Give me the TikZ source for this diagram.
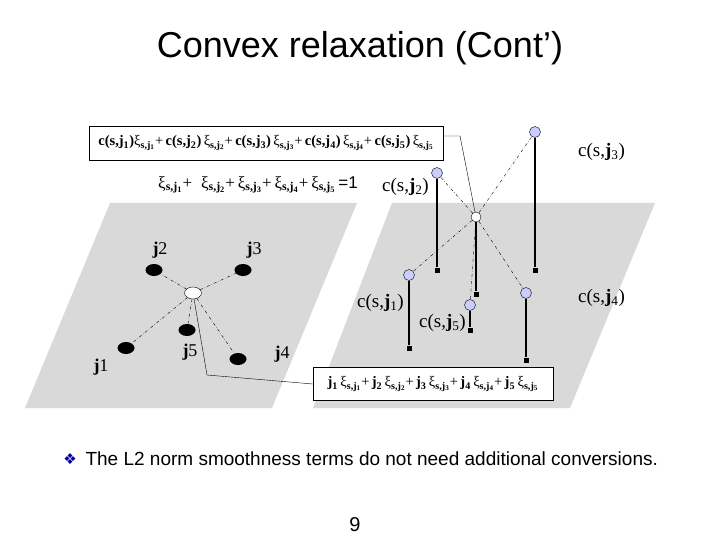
\documentclass[tikz,border=0pt]{standalone}
\usepackage{fontspec}
\setmainfont{Liberation Serif}
\newfontfamily\arial{Liberation Sans}
\newfontfamily\djv{DejaVu Sans}
\usetikzlibrary{shapes.geometric}
\newcommand{\xs}[1]{ξ\textsubscript{\textbf{s,j\textsubscript{#1}}}}
\newcommand{\cj}[1]{\textbf{c(s,j\textsubscript{#1})}}
\newcommand{\cs}[1]{c(s,\textbf{j}\textsubscript{#1})}
\begin{document}
\begin{tikzpicture}[x=1pt,y=-1pt,
  blk/.style={ellipse,fill=black,minimum width=17pt,minimum height=12pt,inner sep=0},
  wht/.style={ellipse,draw,fill=white,minimum width=17pt,minimum height=12pt,inner sep=0},
  blue/.style={circle,draw,fill=blue!20,minimum size=11pt,inner sep=0},
  ctr/.style={circle,draw,fill=white,minimum size=10pt,inner sep=0},
  sq/.style={rectangle,fill=black,minimum size=5pt,inner sep=0},
  dd/.style={dash dot,line width=0.4pt},
  st/.style={line width=1.5pt},
  lbl/.style={font=\fontsize{19}{21}\selectfont,inner sep=1pt},
  jl/.style={font=\bfseries\fontsize{18}{20}\selectfont}]
\useasboundingbox (0,0) rectangle (720,540);
\fill[black!15] (110,203) -- (357,203) -- (272,408) -- (25,408) -- cycle;
\fill[black!15] (392,203) -- (655,203) -- (570,408) -- (313,408) -- cycle;
\node[font=\arial\fontsize{36}{40}\selectfont] (title) at (360,48) {Convex relaxation (Cont’)};
% left graph
\node[wht] (c) at (193,293) {};
\node[blk] (j2) at (154,270) {};
\node[blk] (j3) at (243,270) {};
\node[blk] (j5) at (187,330) {};
\node[blk] (j1) at (126,348) {};
\node[blk] (j4) at (238,359) {};
\foreach \n in {j1,j2,j3,j4,j5} \draw[dd] (c) -- (\n);
\node[jl] (lj2) at (160,250) {j\textmd{2}};
\node[jl] (lj3) at (254,250) {j\textmd{3}};
\node[jl] (lj5) at (190,352) {j\textmd{5}};
\node[jl] (lj1) at (101,367) {j\textmd{1}};
\node[jl] (lj4) at (282,354) {j\textmd{4}};
% right graph
\node[ctr] (rc) at (476,217) {};
\node[blue] (b3) at (535,132) {};
\node[blue] (b2) at (437,173) {};
\node[blue] (b1) at (409,275) {};
\node[blue] (b5) at (470,305) {};
\node[blue] (b4) at (526,293) {};
\foreach \n in {b1,b2,b3,b4,b5} \draw[dd] (rc) -- (\n);
\node[sq] (s3) at (535,270) {};
\node[sq] (s2) at (437,270) {};
\node[sq] (sc) at (476,294) {};
\node[sq] (s1) at (409,348) {};
\node[sq] (s5) at (470,330) {};
\node[sq] (s4) at (526,360) {};
\draw[st] (b3) -- (s3); \draw[st] (b2) -- (s2); \draw[st] (rc) -- (sc);
\draw[st] (b1) -- (s1); \draw[st] (b5) -- (s5); \draw[st] (b4) -- (s4);
\node[lbl,anchor=west] (l3) at (577,152) {\cs{3}};
\node[lbl,anchor=east] (l2) at (430,187) {\cs{2}};
\node[lbl,anchor=east] (l1) at (405,303) {\cs{1}};
\node[lbl,anchor=east] (l5) at (467,323) {\cs{5}};
\node[lbl,anchor=west] (l4) at (577,298) {\cs{4}};
% formulas
\node[draw,fill=white,font=\fontsize{14.5}{16}\selectfont,minimum width=354pt,minimum height=34pt,inner sep=1pt] (top) at (266,143)
 {\cj{1}\xs{1}+\,\cj{2}\,\xs{2}+\,\cj{3}\,\xs{3}+\,\cj{4}\,\xs{4}+\,\cj{5}\,\xs{5}};
\node[font=\fontsize{17}{19}\selectfont] (eq) at (258,185) {\xs{1}+\; \xs{2}+\,\xs{3}+\,\xs{4}+\,\xs{5}\,{\arial =1}};
\node[draw,fill=white,font=\fontsize{14.5}{16}\selectfont,minimum width=240pt,minimum height=33pt,inner sep=1pt] (bot) at (433,384)
 {\textbf{j\textsubscript{1}}\,\xs{1}+\,\textbf{j\textsubscript{2}}\,\xs{2}+\,\textbf{j\textsubscript{3}}\,\xs{3}+\,\textbf{j\textsubscript{4}}\,\xs{4}+\,\textbf{j\textsubscript{5}}\,\xs{5}};
\draw (top.east |- 0,136) -- (460,136) -- (rc);
\draw (bot.west) -- (207,375) -- (c);
% bullet
\node[font=\djv\fontsize{15}{17}\selectfont,text=blue!60!black] (bul) at (70,459) {❖};
\node[anchor=west,font=\arial\fontsize{19}{22}\selectfont] (txt) at (82,459) {The L2 norm smoothness terms do not need additional conversions.};
\node[font=\arial\fontsize{20}{22}\selectfont] (pg) at (355,525) {9};
\end{tikzpicture}
\end{document}
